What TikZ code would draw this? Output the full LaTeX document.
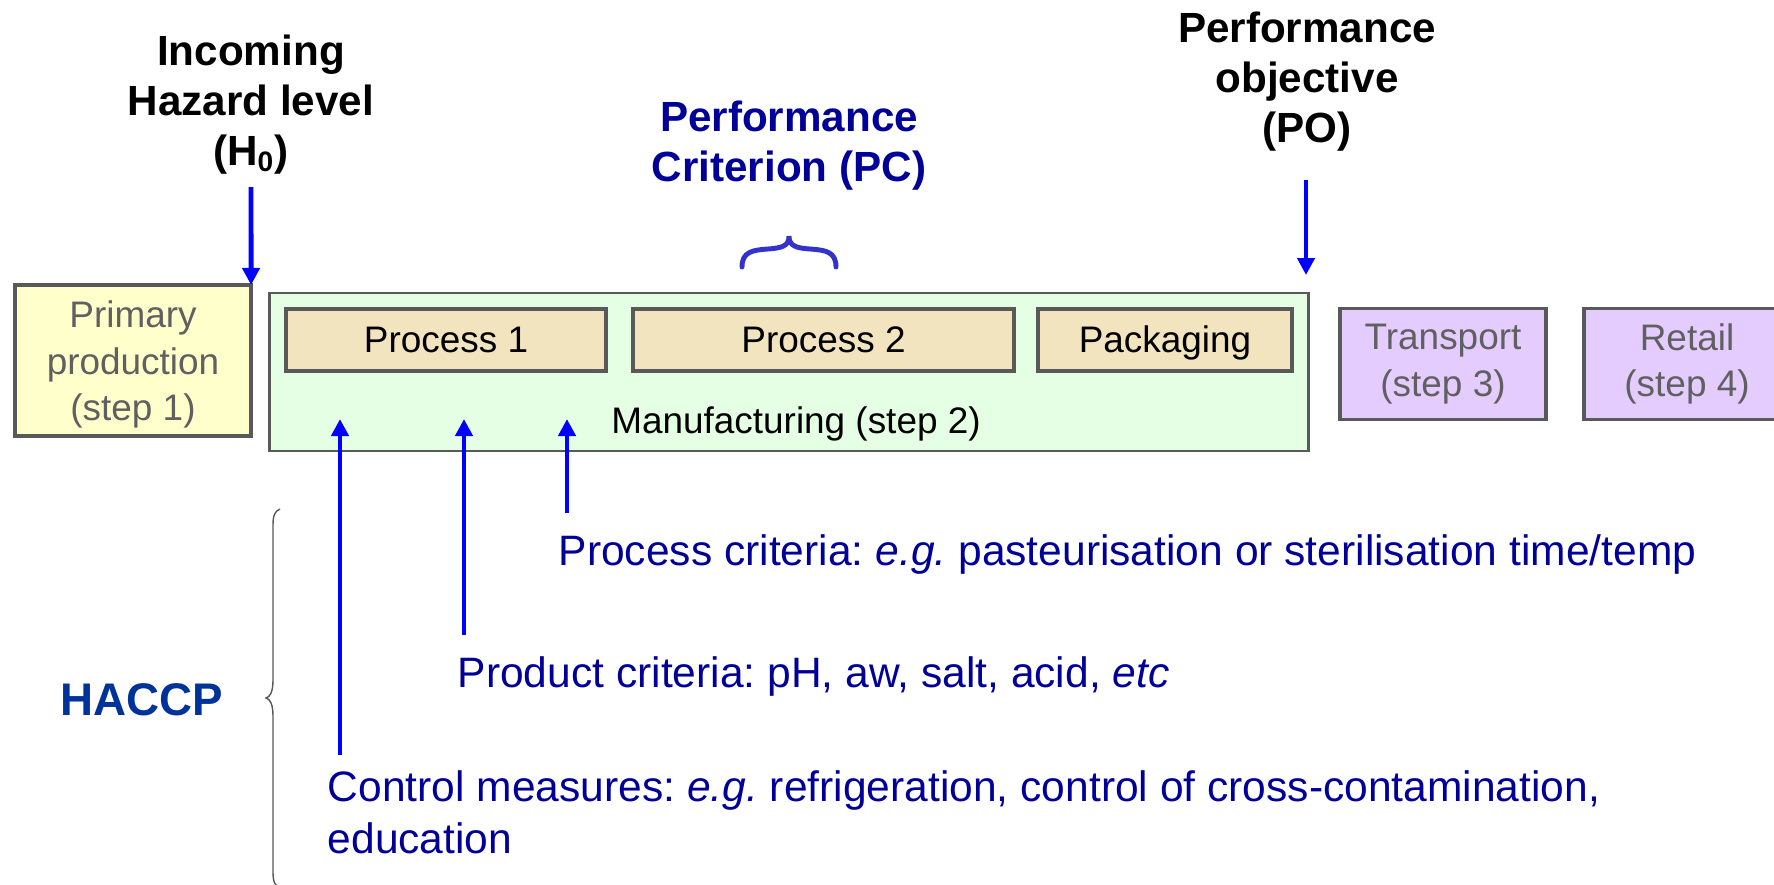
\documentclass[tikz,border=0pt]{standalone}
\usepackage{fontspec}
\setmainfont{Liberation Sans}
\usetikzlibrary{arrows.meta}
\frenchspacing

\definecolor{textblue}{HTML}{000099}
\definecolor{haccpblue}{HTML}{003399}
\definecolor{braceblue}{HTML}{3333CC}
\definecolor{edgegray}{HTML}{595959}
\definecolor{labelgray}{HTML}{606060}
\definecolor{primfill}{HTML}{FFFFCC}
\definecolor{manufill}{HTML}{E5FFE5}
\definecolor{procfill}{HTML}{F1E4BF}
\definecolor{distfill}{HTML}{E5CCFF}

\tikzset{
	flow/.style={blue, line width=1.4pt, -{Triangle[length=0.17cm,width=0.17cm]}},
	stagebox/.style={draw=edgegray, line width=1.1pt, align=center, inner sep=0pt, outer sep=0pt, text=labelgray, font=\fontsize{10.5}{13.3}\selectfont},
	procbox/.style={draw=edgegray, line width=1.1pt, fill=procfill, inner sep=0pt, text height=0.7em, text depth=0pt, minimum height=0.62cm, font=\fontsize{10.5}{13}\selectfont},
	crit/.style={text=textblue, inner sep=0pt, font=\fontsize{12.1}{14.8}\selectfont},
	headtext/.style={inner sep=0pt, align=center, anchor=north, font=\bfseries\fontsize{12}{14.2}\selectfont}
}

\begin{document}
\begin{tikzpicture}[x=0.01cm, y=-0.01cm]
	\useasboundingbox (0,0) rectangle (1774,884);
	\pgfmathsetmacro\PY{340}
	\pgfmathsetmacro\SY{364}

	\draw node[stagebox, fill=primfill, minimum width=2.36cm, minimum height=1.51cm] (prim) at (133,360.5) {\rule{0pt}{0.95em}Primary\\production\\(step 1)};
	\draw node[draw=edgegray, line width=0.7pt, fill=manufill, minimum width=10.38cm, minimum height=1.58cm] (manu) at (789,372) {};
	\draw node[procbox, minimum width=3.20cm] (proc1) at (446,\PY) {Process 1};
	\draw node[procbox, minimum width=3.81cm] (proc2) at (823.5,\PY) {Process 2};
	\draw node[procbox, minimum width=2.54cm] (pack) at (1165,\PY) {Packaging};
	\draw node[anchor=base, inner sep=0pt, font=\fontsize{10.5}{13}\selectfont] (manulbl) at (796,433) {Manufacturing (step 2)};
	\draw node[stagebox, fill=distfill, minimum width=2.06cm, minimum height=1.11cm] (trans) at (1443,\SY) {Transport\\(step 3)};
	\draw node[stagebox, fill=distfill, minimum width=2.06cm, minimum height=1.11cm] (retail) at (1687,\SY) {Retail\\(step 4)};

	\draw node[headtext] (inc) at (251,34) {Incoming\\Hazard level\\(H\textsubscript{0})};
	\draw node[headtext, text=textblue] (pc) at (789,100) {Performance\\Criterion (PC)};
	\draw node[headtext] (po) at (1307,11) {Performance\\objective\\(PO)};

	\coordinate (h0a) at (251,187);
	\draw[flow] (h0a) -- (prim.north east);
	\coordinate (poa) at (1306,180);
	\coordinate (pob) at (1306,275);
	\draw[flow] (poa) -- (pob);

	\draw[braceblue, line width=1.4pt, line cap=round] (742,267) .. controls (742,252) and (752,250) .. (768,249) .. controls (782,248) and (789,246) .. (789,236) .. controls (789,246) and (796,248) .. (810,249) .. controls (826,250) and (836,252) .. (836,267);

	\foreach \x/\y/\n in {340/755/cm, 464/635/pr, 567/513/pc} {
		\coordinate (\n b) at (\x,\y);
		\coordinate (\n t) at (\x,419);
		\draw[flow] (\n b) -- (\n t);
	}

	\draw node[crit, anchor=base west] (pccrit) at (558,565) {Process criteria: \textit{e.g.} pasteurisation or sterilisation time/temp};
	\draw node[crit, anchor=base west] (prcrit) at (457,687) {Product criteria: pH, aw, salt, acid, \textit{etc}};
	\draw node[crit, anchor=north west, align=left] (cmcrit) at (327,770) {Control measures: \textit{e.g.} refrigeration, control of cross-contamination,\\education};

	\draw node[inner sep=0pt, text=haccpblue, font=\bfseries\fontsize{13}{15}\selectfont] (haccp) at (142,700) {HACCP};
	\draw[edgegray, line width=0.4pt] (280,509) .. controls (275,511) and (273,515) .. (273,525) -- (273,680) .. controls (273,692) and (270,697) .. (266,698) .. controls (270,699) and (273,704) .. (273,716) -- (273,872) .. controls (273,882) and (275,886) .. (280,888);
\end{tikzpicture}
\end{document}
